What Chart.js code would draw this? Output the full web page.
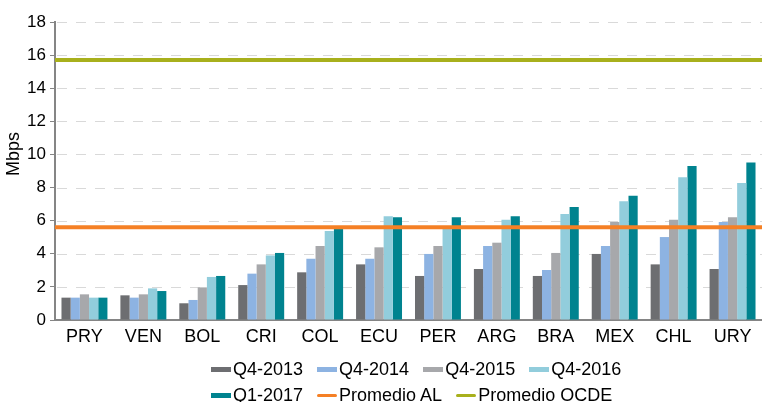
<!DOCTYPE html>
<html>
<head>
<meta charset="utf-8">
<script src="https://cdn.jsdelivr.net/npm/chart.js@4/dist/chart.umd.min.js"></script>
<style>
  html, body { margin: 0; padding: 0; background: #fff; }
  #wrap { position: relative; width: 762px; height: 402px; font-family: "Liberation Sans", Arial, sans-serif; }
  #c { position: absolute; left: 0; top: 0; }
  .lrow { position: absolute; left: 211px; display: flex; gap: 14px; font-size: 18px; line-height: 20px; color: #000; white-space: nowrap; }
  .item { display: flex; align-items: center; }
  .sw { display: inline-block; width: 20px; height: 5px; margin-right: 2px; }
  .ln { display: inline-block; width: 20px; height: 3px; border-radius: 2px; margin-right: 2px; }
</style>
</head>
<body>
<div id="wrap">
  <canvas id="c" width="762" height="402"></canvas>
  <div id="row1" class="lrow" style="top:359px"></div>
  <div id="row2" class="lrow" style="top:385px"></div>
</div>
<script>
const categories = ['PRY','VEN','BOL','CRI','COL','ECU','PER','ARG','BRA','MEX','CHL','URY'];
const seriesNames = ['Q4-2013','Q4-2014','Q4-2015','Q4-2016','Q1-2017'];
const q4_2013 = [1.35,1.49,1.01,2.11,2.88,3.36,2.66,3.08,2.66,3.99,3.36,3.08];
const q4_2014 = [1.35,1.35,1.21,2.80,3.70,3.70,3.99,4.47,3.02,4.47,5.01,5.92];
const q4_2015 = [1.55,1.55,1.97,3.36,4.47,4.39,4.47,4.67,4.05,5.92,6.06,6.20];
const q4_2016 = [1.35,1.91,2.60,3.90,5.37,6.26,5.55,6.06,6.40,7.17,8.62,8.27];
const q1_2017 = [1.35,1.75,2.66,4.05,5.51,6.20,6.20,6.26,6.82,7.51,9.30,9.52];
const lineNames = ['Promedio AL','Promedio OCDE'];
const promedioAL = 5.6;
const promedioOCDE = 15.7;
const yTickValues = [0,2,4,6,8,10,12,14,16,18];
const yTitle = 'Mbps';

const barColors = ['#6d6e71','#8db3e2','#a7a8ab','#92cddc','#00838f'];
const lineColors = ['#f58025','#a8b01c'];
const barSeries = [q4_2013,q4_2014,q4_2015,q4_2016,q1_2017];
const lineValues = [promedioAL, promedioOCDE];

const datasets = barSeries.map((d,i) => ({
  label: seriesNames[i], data: d, backgroundColor: barColors[i],
  borderWidth: 0, categoryPercentage: 0.78, barPercentage: 1.0
}));

// Dashed gridlines behind the bars, at the y-scale tick positions
const dashedGridPlugin = {
  id: 'dashedGrid',
  beforeDatasetsDraw(chart) {
    const { ctx, chartArea, scales } = chart;
    ctx.save();
    ctx.strokeStyle = '#d9d9d9';
    ctx.lineWidth = 1;
    ctx.setLineDash([10, 9]);
    scales.y.ticks.forEach(t => {
      if (t.value === 0) return;
      const y = Math.round(scales.y.getPixelForValue(t.value)) + 0.5;
      ctx.beginPath();
      ctx.moveTo(chartArea.left + 2, y);
      ctx.lineTo(chartArea.right, y);
      ctx.stroke();
    });
    ctx.restore();
  }
};

// Average lines drawn across the full plot width at the y-scale value
const avgLinesPlugin = {
  id: 'avgLines',
  afterDatasetsDraw(chart) {
    const { ctx, chartArea, scales } = chart;
    ctx.save();
    lineValues.forEach((v, i) => {
      const y = scales.y.getPixelForValue(v);
      ctx.beginPath();
      ctx.strokeStyle = lineColors[i];
      ctx.lineWidth = 4;
      ctx.moveTo(chartArea.left, y);
      ctx.lineTo(chartArea.right, y);
      ctx.stroke();
    });
    // y-axis title
    ctx.save();
    ctx.fillStyle = '#000';
    ctx.font = '18px "Liberation Sans"';
    ctx.textAlign = 'center';
    ctx.textBaseline = 'middle';
    ctx.translate(14, 154);
    ctx.rotate(-Math.PI / 2);
    ctx.fillText(yTitle, 0, 0);
    ctx.restore();
    ctx.restore();
  }
};

new Chart(document.getElementById('c'), {
  type: 'bar',
  data: { labels: categories, datasets },
  plugins: [dashedGridPlugin, avgLinesPlugin],
  options: {
    responsive: false, animation: false,
    layout: { padding: { top: 22, right: 0, bottom: 0, left: 0 } },
    plugins: { legend: { display: false }, tooltip: { enabled: false } },
    scales: {
      x: {
        grid: { display: false, drawTicks: false },
        border: { display: true, color: '#858585', width: 2 },
        ticks: { color: '#000', padding: 6, font: { family: 'Liberation Sans', size: 18 } },
        afterFit: s => { s.height = 82; }
      },
      y: {
        min: 0, max: 18,
        afterBuildTicks: s => { s.ticks = yTickValues.map(v => ({ value: v })); },
        grid: { color: 'rgba(0,0,0,0)', lineWidth: 1, drawTicks: true, tickLength: 5, tickColor: '#858585' },
        border: { display: true, color: '#858585', width: 2 },
        ticks: { color: '#000', padding: 4, font: { family: 'Liberation Sans', size: 17 } },
        title: { display: false },
        afterFit: s => { s.width = 55; }
      }
    }
  }
});

// HTML legend built from the series names
function addItem(row, name, color, isLine) {
  const it = document.createElement('div'); it.className = 'item';
  const sw = document.createElement('span'); sw.className = isLine ? 'ln' : 'sw'; sw.style.background = color;
  const tx = document.createElement('span'); tx.textContent = name;
  it.appendChild(sw); it.appendChild(tx); row.appendChild(it);
}
const r1 = document.getElementById('row1'), r2 = document.getElementById('row2');
seriesNames.forEach((n,i) => addItem(i < 4 ? r1 : r2, n, barColors[i], false));
lineNames.forEach((n,i) => addItem(r2, n, lineColors[i], true));
</script>
</body>
</html>
